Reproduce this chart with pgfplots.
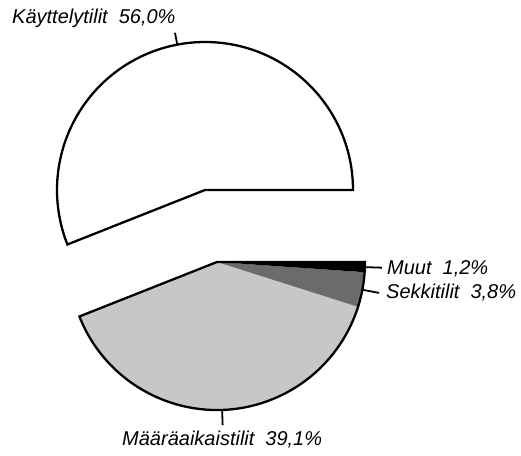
\documentclass[border=0pt]{standalone}
\usepackage{pgfplots}
\pgfplotsset{compat=1.18}
\usepackage{fontspec}
\setmainfont{Liberation Sans}

\begin{document}
\begin{tikzpicture}[lbl/.style={anchor=base west, inner sep=0pt,
    font=\fontsize{20}{23}\selectfont\itshape}]
\begin{axis}[x=1pt, y=1pt, scale only axis, hide axis, clip=false,
  xmin=0, xmax=521, ymin=0, ymax=455]
\path (axis cs:0,0) rectangle (axis cs:521,455);
% shares in percent
\def\kay{56.0}\def\maa{39.1}\def\sek{3.8}\def\muu{1.2}
\pgfmathsetmacro\aA{3.6*\kay}
\pgfmathsetmacro\aB{\aA+3.6*\maa}
\pgfmathsetmacro\aC{\aB+3.6*\sek}
\pgfmathsetmacro\mA{\aA/2}
\pgfmathsetmacro\mB{(\aA+\aB)/2}
\pgfmathsetmacro\mC{(\aB+\aC)/2}
\pgfmathsetmacro\mD{(\aC+360)/2}
% exploded slice
\filldraw[fill=white, line width=2.3pt] (axis cs:205,265) -- ++(0:148pt)
  arc[start angle=0, end angle=\aA, radius=148pt] -- cycle;
% remaining slices
\fill[black!22] (axis cs:217,193) -- ++(\aA:148pt)
  arc[start angle=\aA, end angle=\aB, radius=148pt] -- cycle;
\fill[black!58] (axis cs:217,193) -- ++(\aB:148pt)
  arc[start angle=\aB, end angle=\aC, radius=148pt] -- cycle;
\fill[black] (axis cs:217,193) -- ++(\aC:148pt)
  arc[start angle=\aC, end angle=360, radius=148pt] -- cycle;
\draw[line width=2.3pt] (axis cs:217,193) -- ++(\aA:148pt)
  arc[start angle=\aA, end angle=360, radius=148pt] -- cycle;
% leaders
\draw[line width=1.8pt] (axis cs:205,265) ++(\mA:148pt) -- ++(\mA:12pt);
\draw[line width=1.8pt] (axis cs:217,193) ++(\mB:148pt) -- ++(\mB:15pt);
\draw[line width=1.8pt] (axis cs:217,193) ++(\mC:148pt) -- ++(\mC:17pt);
\draw[line width=1.8pt] (axis cs:217,193) ++(\mD:149pt) -- ++(\mD:16pt);
% labels
\node[lbl] at (axis cs:12,431) {Käyttelytilit\hspace{0.55em}56,0\%};
\node[lbl] at (axis cs:122,10) {Määräaikaistilit\hspace{0.55em}39,1\%};
\node[lbl] at (axis cs:386,157) {Sekkitilit\hspace{0.55em}3,8\%};
\node[lbl] at (axis cs:387,180) {Muut\hspace{0.55em}1,2\%};
\end{axis}
\end{tikzpicture}
\end{document}
